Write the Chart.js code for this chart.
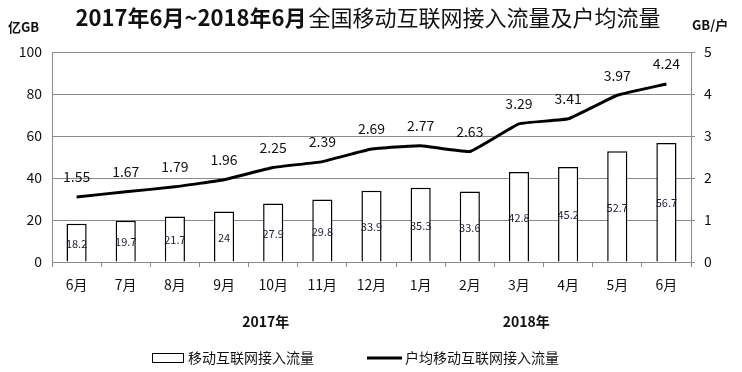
<meta charset="UTF-8" />
<style>
  body { margin: 0; background: #fff; }
  #wrap { width: 742px; height: 372px; }
</style>
<div id="wrap">
  <canvas id="myChart" width="742" height="372"></canvas>
</div>
<script src="https://cdn.jsdelivr.net/npm/chart.js@4.4.0/dist/chart.umd.min.js"></script>
<script>
// data
const months = ["6月", "7月", "8月", "9月", "10月", "11月", "12月", "1月", "2月", "3月", "4月", "5月", "6月"];
const traffic = [18.2, 19.7, 21.7, 24, 27.9, 29.8, 33.9, 35.3, 33.6, 42.8, 45.2, 52.7, 56.7];
const perUser = [1.55, 1.67, 1.79, 1.96, 2.25, 2.39, 2.69, 2.77, 2.63, 3.29, 3.41, 3.97, 4.24];
const yearNames = ["2017年", "2018年"];
const yearPos = [3.85, 9.15];   // category index the year label sits under

const font = '"Noto Sans CJK SC", "Noto Sans", sans-serif';
const gridGray = "#8a8a8a";

const extras = {
  id: "extras",
  afterDatasetsDraw(chart) {
    const ctx = chart.ctx;
    const x = chart.scales.x;
    ctx.save();
    ctx.textAlign = "center";
    ctx.textBaseline = "middle";

    // bar value labels, centered in each bar
    ctx.font = "11px " + font;
    ctx.fillStyle = "#1b1b3c";
    chart.getDatasetMeta(0).data.forEach(function(bar, i) {
      ctx.fillText(String(traffic[i]), bar.x, (bar.y + bar.base) / 2 + 1);
    });

    // line value labels, above each point
    ctx.font = "14px " + font;
    ctx.fillStyle = "#111";
    chart.getDatasetMeta(1).data.forEach(function(pt, i) {
      ctx.fillText(perUser[i].toFixed(2), pt.x, pt.y - 20);
    });

    // axis unit titles
    ctx.font = "bold 13px " + font;
    ctx.textAlign = "left";
    ctx.fillText("亿GB", 8, 27);
    ctx.fillText("GB/户", 692, 25);

    // year labels
    ctx.textAlign = "center";
    ctx.font = "bold 14px " + font;
    yearNames.forEach(function(name, i) {
      ctx.fillText(name, x.getPixelForValue(yearPos[i]), 322);
    });

    // legend
    ctx.font = "14px " + font;
    ctx.textAlign = "left";
    ctx.strokeStyle = "#000";
    ctx.lineWidth = 1;
    ctx.fillStyle = "#fff";
    ctx.fillRect(152.5, 353.5, 31, 9);
    ctx.strokeRect(152.5, 353.5, 31, 9);
    ctx.fillStyle = "#111";
    ctx.fillText("移动互联网接入流量", 188, 358);
    ctx.lineWidth = 3;
    ctx.beginPath();
    ctx.moveTo(367, 358);
    ctx.lineTo(402, 358);
    ctx.stroke();
    ctx.fillText("户均移动互联网接入流量", 405, 358);

    // title: bold date part, regular rest
    const t1 = "2017年6月~2018年6月";
    const t2 = "全国移动互联网接入流量及户均流量";
    const f1 = "bold 22px " + font;
    const f2 = "22px " + font;
    ctx.font = f1;
    const w1 = ctx.measureText(t1).width;
    ctx.font = f2;
    const w2 = ctx.measureText(t2).width;
    let tx = 368 - (w1 + w2 + 2) / 2;
    ctx.font = f1;
    ctx.fillText(t1, tx, 18);
    ctx.font = f2;
    ctx.fillText(t2, tx + w1 + 2, 18);
    ctx.restore();
  }
};

const data = {
  labels: months,
  datasets: [
    {
      type: "bar",
      label: "移动互联网接入流量",
      data: traffic,
      yAxisID: "y",
      backgroundColor: "#fff",
      borderColor: "#000",
      borderWidth: 1.5,
      barPercentage: 0.41,
      categoryPercentage: 1,
      order: 2
    },
    {
      type: "line",
      label: "户均移动互联网接入流量",
      data: perUser,
      yAxisID: "y1",
      borderColor: "#000",
      borderWidth: 3,
      pointRadius: 0,
      tension: 0.1,
      fill: false,
      order: 1
    }
  ]
};

const config = {
  data: data,
  options: {
    responsive: false,
    animation: false,
    layout: { padding: { left: 0, right: 0, top: 52, bottom: 0 } },
    plugins: {
      legend: { display: false },
      tooltip: { enabled: false }
    },
    scales: {
      x: {
        offset: true,
        grid: {
          offset: true,
          drawOnChartArea: false,
          color: gridGray,
          tickLength: 5
        },
        border: { color: gridGray },
        ticks: {
          color: "#111",
          font: { size: 14, family: font },
          padding: 9,
          maxRotation: 0,
          autoSkip: false
        },
        afterFit: function(s) { s.height = 110; }
      },
      y: {
        position: "left",
        min: 0,
        max: 100,
        grid: { color: gridGray, drawTicks: false },
        border: { color: gridGray },
        ticks: {
          stepSize: 20,
          color: "#111",
          padding: 10,
          font: { size: 14, family: font }
        },
        afterFit: function(s) { s.width = 52; }
      },
      y1: {
        position: "right",
        min: 0,
        max: 5,
        grid: { drawOnChartArea: false, color: gridGray, tickLength: 4 },
        border: { color: gridGray },
        ticks: {
          stepSize: 1,
          color: "#111",
          padding: 9,
          font: { size: 14, family: font }
        },
        afterFit: function(s) { s.width = 51; }
      }
    }
  },
  plugins: [extras]
};

var myChart = new Chart(document.getElementById("myChart"), config);
</script>
